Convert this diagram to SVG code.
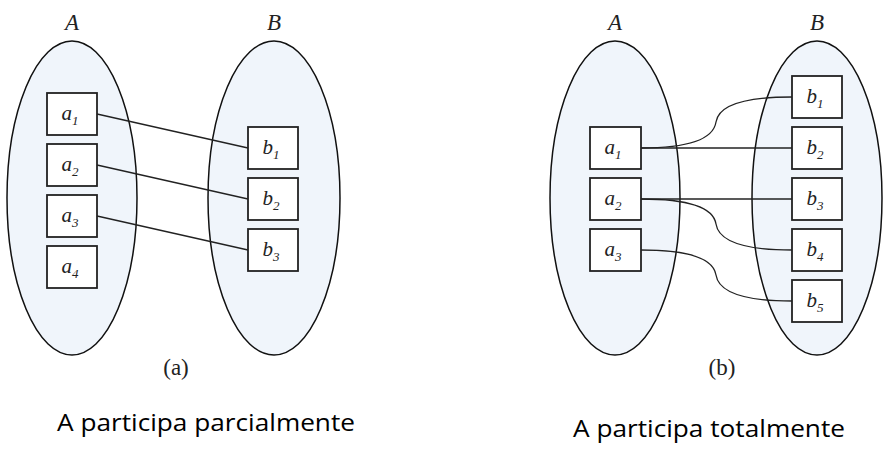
<svg xmlns="http://www.w3.org/2000/svg" width="890" height="450" viewBox="0 0 890 450">
<style>
.set{fill:#f0f5fb;stroke:#111;stroke-width:1.5}
.box{fill:#fff;stroke:#222;stroke-width:1.8}
.lbl{font-family:"Liberation Serif",serif;font-style:italic;font-size:21px;fill:#222;text-anchor:middle}
.sub{font-size:13px}
.ttl{font-family:"Liberation Serif",serif;font-style:italic;font-size:23px;fill:#222;text-anchor:middle}
.cap{font-family:"Liberation Serif",serif;font-size:23px;fill:#222;text-anchor:middle}
.note{font-family:"Open Sans","Noto Sans",sans-serif;font-size:24px;fill:#000}
.con{fill:none;stroke:#222;stroke-width:1.3}
</style>
<rect width="890" height="450" fill="#fff"/>
<g id="diagram-a">
<text class="ttl" x="72" y="30">A</text>
<text class="ttl" x="274" y="30">B</text>
<ellipse id="setA" class="set" cx="72" cy="198" rx="65" ry="157"/>
<ellipse id="setB" class="set" cx="274" cy="198" rx="66" ry="157"/>
<g id="a1"><rect class="box" x="47" y="93" width="50" height="42"/><text class="lbl" x="70" y="120">a<tspan class="sub" dy="5">1</tspan></text></g>
<g id="a2"><rect class="box" x="47" y="144" width="50" height="42"/><text class="lbl" x="70" y="171">a<tspan class="sub" dy="5">2</tspan></text></g>
<g id="a3"><rect class="box" x="47" y="195" width="50" height="42"/><text class="lbl" x="70" y="222">a<tspan class="sub" dy="5">3</tspan></text></g>
<g id="a4"><rect class="box" x="47" y="246" width="50" height="42"/><text class="lbl" x="70" y="273">a<tspan class="sub" dy="5">4</tspan></text></g>
<g id="b1"><rect class="box" x="248" y="127" width="50" height="42"/><text class="lbl" x="271" y="154">b<tspan class="sub" dy="5">1</tspan></text></g>
<g id="b2"><rect class="box" x="248" y="178" width="50" height="42"/><text class="lbl" x="271" y="205">b<tspan class="sub" dy="5">2</tspan></text></g>
<g id="b3"><rect class="box" x="248" y="229" width="50" height="42"/><text class="lbl" x="271" y="256">b<tspan class="sub" dy="5">3</tspan></text></g>
<g id="connectors-a">
<line class="con" x1="97" y1="114" x2="248" y2="148"/>
<line class="con" x1="97" y1="165" x2="248" y2="199"/>
<line class="con" x1="97" y1="216" x2="248" y2="250"/>
</g>
<text class="cap" x="176" y="375">(a)</text>
</g>
<g id="diagram-b">
<text class="ttl" x="615" y="30">A</text>
<text class="ttl" x="817" y="30">B</text>
<ellipse id="setA2" class="set" cx="615" cy="198" rx="65" ry="157"/>
<ellipse id="setB2" class="set" cx="817" cy="198" rx="65" ry="157"/>
<g id="a1b"><rect class="box" x="590" y="127" width="51" height="42"/><text class="lbl" x="613" y="154">a<tspan class="sub" dy="5">1</tspan></text></g>
<g id="a2b"><rect class="box" x="590" y="178" width="51" height="42"/><text class="lbl" x="613" y="205">a<tspan class="sub" dy="5">2</tspan></text></g>
<g id="a3b"><rect class="box" x="590" y="229" width="51" height="42"/><text class="lbl" x="613" y="256">a<tspan class="sub" dy="5">3</tspan></text></g>
<g id="b1b"><rect class="box" x="792" y="76" width="50" height="42"/><text class="lbl" x="815" y="103">b<tspan class="sub" dy="5">1</tspan></text></g>
<g id="b2b"><rect class="box" x="792" y="127" width="50" height="42"/><text class="lbl" x="815" y="154">b<tspan class="sub" dy="5">2</tspan></text></g>
<g id="b3b"><rect class="box" x="792" y="178" width="50" height="42"/><text class="lbl" x="815" y="205">b<tspan class="sub" dy="5">3</tspan></text></g>
<g id="b4b"><rect class="box" x="792" y="229" width="50" height="42"/><text class="lbl" x="815" y="256">b<tspan class="sub" dy="5">4</tspan></text></g>
<g id="b5b"><rect class="box" x="792" y="280" width="50" height="42"/><text class="lbl" x="815" y="307">b<tspan class="sub" dy="5">5</tspan></text></g>
<g id="connectors-b">
<path class="con" d="M641,148 Q712,148 716,122 Q720,97 792,97"/>
<line class="con" x1="641" y1="148" x2="792" y2="148"/>
<line class="con" x1="641" y1="199" x2="792" y2="199"/>
<path class="con" d="M641,199 Q712,199 716,224 Q720,250 792,250"/>
<path class="con" d="M641,250 Q712,250 716,275 Q720,301 792,301"/>
</g>
<text class="cap" x="722" y="375">(b)</text>
</g>
<text class="note" x="57" y="431" textLength="298" lengthAdjust="spacingAndGlyphs">A participa parcialmente</text>
<text class="note" x="573" y="437" textLength="272" lengthAdjust="spacingAndGlyphs">A participa totalmente</text>
</svg>
